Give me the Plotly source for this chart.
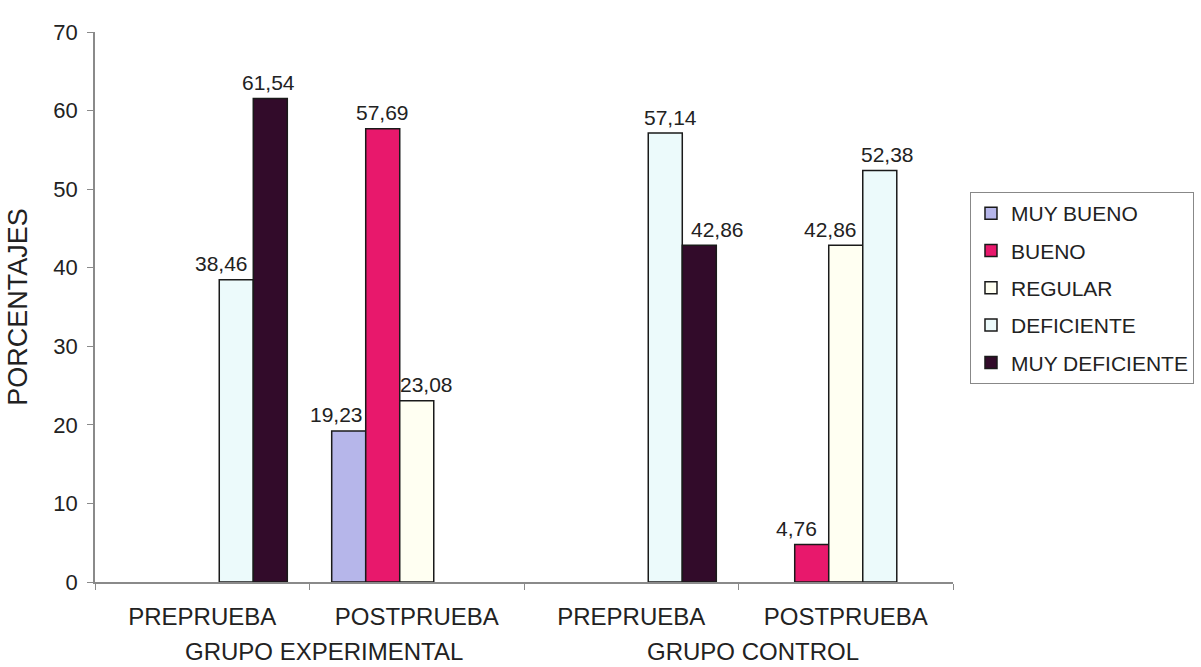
import plotly.graph_objects as go

# ---- data ----
categories = ["PREPRUEBA", "POSTPRUEBA", "PREPRUEBA", "POSTPRUEBA"]
groups = ["GRUPO EXPERIMENTAL", "GRUPO CONTROL"]
series_names = ["MUY BUENO", "BUENO", "REGULAR", "DEFICIENTE", "MUY DEFICIENTE"]
muy_bueno = [0, 19.23, 0, 0]
bueno = [0, 57.69, 0, 4.76]
regular = [0, 23.08, 0, 42.86]
deficiente = [38.46, 0, 57.14, 52.38]
muy_deficiente = [61.54, 0, 42.86, 0]
y_ticks = [0, 10, 20, 30, 40, 50, 60, 70]

series_values = [muy_bueno, bueno, regular, deficiente, muy_deficiente]

# ---- style ----
colors = ["#b6b6ea", "#e8186c", "#fffff2", "#ecfafb", "#320b2a"]
label_dx = {(3, 0): -15, (4, 0): -2, (0, 1): -12, (2, 1): 10,
            (3, 2): 5, (4, 2): 18, (1, 3): -15, (2, 3): -15, (3, 3): 8}
FONT = "Liberation Sans, Arial, sans-serif"
TXT = "#222222"
bargap = 0.207
n = len(series_names)
w = (1 - bargap) / n

x_idx = list(range(len(categories)))
fig = go.Figure()
for k, (name, vals) in enumerate(zip(series_names, series_values)):
    fig.add_trace(go.Bar(
        x=x_idx, y=[v if v else None for v in vals], name=name,
        marker=dict(color=colors[k], line=dict(color="#1a1a1a", width=1.5)),
        legendgroup=name, hoverinfo="skip",
    ))

annotations = []
for k, vals in enumerate(series_values):
    for i, v in enumerate(vals):
        if not v:
            continue
        annotations.append(dict(
            x=i + (k - (n - 1) / 2) * w, y=v, xref="x", yref="y",
            text=f"{v:.2f}".replace(".", ","), showarrow=False,
            yanchor="middle", yshift=16, xshift=label_dx.get((k, i), 0),
            font=dict(family=FONT, size=21, color=TXT)))

for g, name in enumerate(groups):
    annotations.append(dict(
        x=2 * g + 0.5, y=-0.127, xref="x", yref="paper", text=name,
        showarrow=False, yanchor="middle", xshift=14,
        font=dict(family=FONT, size=24, color=TXT)))

fig.update_layout(
    width=1201, height=667,
    margin=dict(l=95, r=248, t=32, b=85, autoexpand=False),
    paper_bgcolor="white", plot_bgcolor="white",
    barmode="group", bargap=bargap, bargroupgap=0,
    font=dict(family=FONT, color=TXT),
    annotations=annotations,
    legend=dict(x=1.0198, xanchor="left", y=0.709, yanchor="top",
                bordercolor="#888888", borderwidth=1, bgcolor="white",
                font=dict(family=FONT, size=21, color=TXT),
                tracegroupgap=7),
    xaxis=dict(range=[-0.5, 3.5], tickmode="array", tickvals=x_idx,
               ticktext=categories, ticks="", showgrid=False, zeroline=False,
               showline=True, linecolor="#8a8a8a", linewidth=1.5,
               tickfont=dict(family=FONT, size=24, color=TXT),
               ticklabelstandoff=12,
               minor=dict(tickmode="array",
                          tickvals=[i - 0.5 for i in range(len(categories) + 1)],
                          ticks="outside", ticklen=6, tickcolor="#8a8a8a",
                          showgrid=False)),
    yaxis=dict(range=[0, 70], tickmode="array", tickvals=y_ticks,
               ticks="outside", ticklen=6, tickcolor="#8a8a8a",
               showgrid=False, zeroline=False, showline=True,
               linecolor="#8a8a8a", linewidth=1.5, ticklabelstandoff=5,
               tickfont=dict(family=FONT, size=22, color=TXT),
               title=dict(text="PORCENTAJES", standoff=18,
                          font=dict(family=FONT, size=27, color=TXT))),
)

fig.write_html("out.html")
